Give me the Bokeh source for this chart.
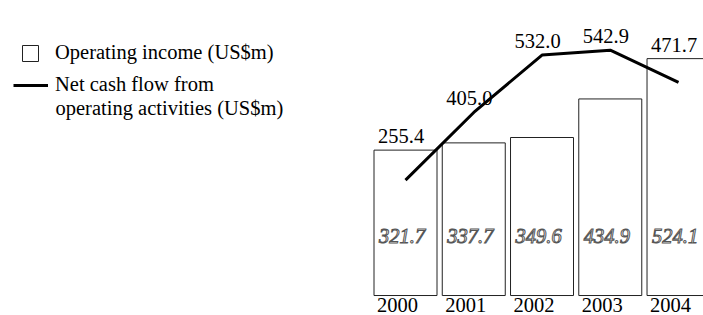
import numpy as np
from bokeh.plotting import figure
from bokeh.models import ColumnDataSource, Range1d, Legend, LegendItem, Label
from bokeh.core.properties import value
from bokeh.embed import file_html
from bokeh.resources import INLINE

# ---- data ----
years = ["2000", "2001", "2002", "2003", "2004"]
operating_income = [321.7, 337.7, 349.6, 434.9, 524.1]      # bars (US$m)
net_cash_flow = [255.4, 405.0, 532.0, 542.9, 471.7]         # line (US$m)

FONT = value("Liberation Serif")
FS = "20.5px"
bar_w = 0.923

x = np.arange(len(years), dtype=float)
src = ColumnDataSource(dict(
    x=x,
    left=x - bar_w / 2,
    year=years,
    income=operating_income,
    cash=net_cash_flow,
    label_y=np.maximum(operating_income, net_cash_flow),
    income_label=[f"{v:.1f}" for v in operating_income],
    cash_label=[f"{v:.1f}" for v in net_cash_flow],
))

p = figure(width=703, height=315,
           x_range=Range1d(-5.934, 4.366), y_range=Range1d(-44.2, 652.7),
           x_axis_type=None, y_axis_type=None,
           output_backend="svg", toolbar_location=None, min_border=0)
p.grid.visible = False
p.outline_line_color = None

bars = p.vbar(x="x", top="income", bottom=0, width=bar_w, source=src,
              fill_color="white", line_color="#222222", line_width=1)
line = p.line(x="x", y="cash", source=src, line_color="black", line_width=3)

# net cash flow labels (above)
p.text(x="left", y="label_y", text="cash_label", source=src,
       x_offset=4, y_offset=-14, text_align="left", text_baseline="alphabetic",
       text_font=FONT, text_font_size=FS, text_color="black")

# operating income labels (inside bars, hollow italic)
p.text(x="left", y=0, text="income_label", source=src,
       x_offset=5, y_offset=-60, text_align="left", text_baseline="middle",
       text_font=FONT, text_font_size=FS, text_font_style="italic",
       text_color="white", text_outline_color="#555555")

# year labels
p.text(x="left", y=0, text="year", source=src,
       x_offset=3, y_offset=2, text_align="left", text_baseline="top",
       text_font=FONT, text_font_size=FS, text_color="black")

common = dict(padding=0, margin=0, spacing=0, border_line_color=None,
              background_fill_alpha=0, label_text_font="Liberation Serif",
              label_text_font_size=FS, label_text_color="black")

leg1 = Legend(items=[LegendItem(label="Operating income (US$m)", renderers=[bars])],
              location=(20, 251), glyph_width=20, glyph_height=20,
              label_standoff=15, **common)
leg2 = Legend(items=[LegendItem(label="Net cash flow from", renderers=[line])],
              location=(13, 219), glyph_width=35, glyph_height=16,
              label_standoff=7, **common)
p.add_layout(leg1)
p.add_layout(leg2)
p.add_layout(Label(x=55, y=208, x_units="screen", y_units="screen",
                   text="operating activities (US$m)", text_baseline="alphabetic",
                   text_font="Liberation Serif", text_font_size=FS,
                   text_color="black"))

open("out.html", "w").write(file_html(p, INLINE))
